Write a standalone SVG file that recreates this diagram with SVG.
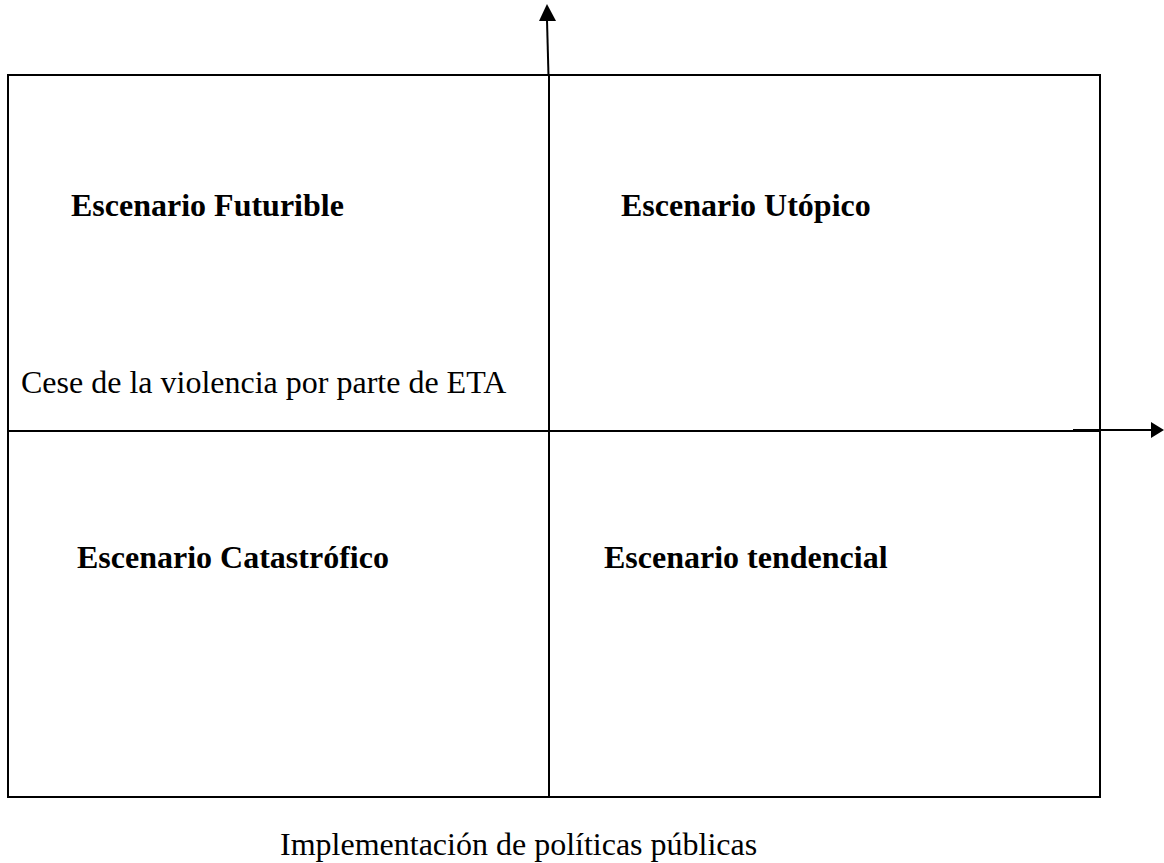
<svg xmlns="http://www.w3.org/2000/svg" width="1164" height="863" viewBox="0 0 1164 863">
<style>
.ln{stroke:#000;stroke-width:2;fill:none}
.ax{stroke:#000;stroke-width:2;fill:none}
.h{font-family:"Liberation Serif","Times New Roman",serif;font-weight:bold;font-size:32px;fill:#000}
.t{font-family:"Liberation Serif","Times New Roman",serif;font-size:32px;fill:#000}
</style>
<rect width="1164" height="863" fill="#fff"/>
<g id="frame">
<rect class="ln" x="8" y="75" width="1092" height="722"/>
<line class="ln" x1="8" y1="431" x2="1100" y2="431"/>
<line class="ln" x1="549" y1="75" x2="549" y2="797"/>
</g>
<g id="connectors">
<line class="ax" x1="548.5" y1="76" x2="547" y2="20"/>
<path d="M547,4 L539,21 L556,21 Z" fill="#000"/>
<line class="ax" x1="1073" y1="430" x2="1152" y2="430"/>
<path d="M1164,430 L1151,422 L1151,438 Z" fill="#000"/>
</g>
<g id="futurible">
<text class="h" x="71" y="216">Escenario Futurible</text>
<text class="t" x="21" y="393">Cese de la violencia por parte de ETA</text>
</g>
<g id="utopico">
<text class="h" x="621" y="216">Escenario Utópico</text>
</g>
<g id="catastrofico">
<text class="h" x="77" y="568">Escenario Catastrófico</text>
</g>
<g id="tendencial">
<text class="h" x="604" y="568">Escenario tendencial</text>
</g>
<g id="xlabel">
<text class="t" x="280" y="855">Implementación de políticas públicas</text>
</g>
</svg>
